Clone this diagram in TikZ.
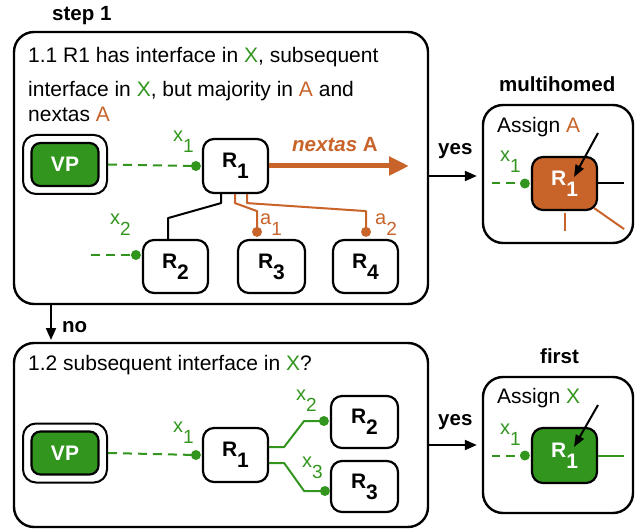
\documentclass[tikz,border=0pt]{standalone}
\usepackage{fontspec}
\setmainfont{Liberation Sans}
\usetikzlibrary{arrows.meta}
\definecolor{gr}{RGB}{50,150,30}
\definecolor{orng}{RGB}{200,100,42}
\newcommand{\fs}[1]{\fontsize{#1}{#1}\selectfont}
\newcommand{\Rlab}[1]{\bfseries{\fs{21}R}\raisebox{-11pt}{\fs{21}#1}}
\newcommand{\xlab}[2]{\fs{20}#1\raisebox{-11pt}{\fs{19}#2}}
\begin{document}
\begin{tikzpicture}[x=1pt,y=-1pt,line join=round,
  bigbox/.style={draw,line width=2.4pt,rounded corners=20pt,inner sep=0pt},
  rt/.style={draw,line width=2.2pt,rounded corners=11pt,fill=white,inner sep=0pt,minimum width=65pt,minimum height=54pt},
  vpo/.style={draw,line width=2pt,rounded corners=13pt,minimum width=84pt,minimum height=59pt,inner sep=0pt},
  vpi/.style={draw,line width=2.2pt,rounded corners=9pt,fill=gr,text=white,font=\fs{21}\bfseries,minimum width=67pt,minimum height=43pt,inner sep=0pt},
  txt/.style={anchor=base west,inner sep=0pt,font=\fs{21}},
  btxt/.style={anchor=base west,inner sep=0pt,font=\fs{20.5}\bfseries},
  lab/.style={anchor=base west,inner sep=0pt},
  gdash/.style={draw=gr,line width=2pt,dash pattern=on 9pt off 6pt},
  gline/.style={draw=gr,line width=2pt},
  oline/.style={draw=orng,line width=2pt},
  kline/.style={draw=black,line width=2pt},
  dotg/.style={circle,fill=gr,inner sep=0pt,minimum size=10pt},
  doto/.style={circle,fill=orng,inner sep=0pt,minimum size=10pt},
  arr/.style={-{Triangle[length=12pt,width=10pt]},line width=2pt},
  sarr/.style={-{Triangle[length=12pt,width=9pt]},line width=2pt}]
\useasboundingbox (0,0) rectangle (639,529);

% ---------- step 1 ----------
\node[btxt] (st1) at (52,21) {step 1};
\node[bigbox,minimum width=414pt,minimum height=272pt] (s1) at (221,168) {};
\node[txt] (t11) at (28,63) {1.1 R1 has interface in \textcolor{gr}{X}, subsequent};
\node[txt] (t12) at (28,97) {interface in \textcolor{gr}{X}, but majority in \textcolor{orng}{A} and};
\node[txt] (t13) at (28,122) {nextas \textcolor{orng}{A}};

\node[vpo] (VP1o) at (65,164.5) {};
\node[vpi] (VP1) at (65,164.5) {VP};
\node[rt] (R1a) at (235.5,166) {\Rlab{1}};
\node[rt,minimum height=53pt] (R2a) at (175.5,266.5) {\Rlab{2}};
\node[rt,minimum height=53pt,minimum width=67pt] (R3a) at (271.5,266.5) {\Rlab{3}};
\node[rt,minimum height=53pt] (R4a) at (365.5,266.5) {\Rlab{4}};

\node[dotg] (d1) at ([xshift=-6pt]R1a.west) {};
\draw[gdash] (VP1o.east) -- (d1.center);
\node[lab,text=gr] (lx1) at (173,142) {\xlab{x}{1}};

\coordinate (x2s) at (88,255);
\node[dotg] (d2) at ([xshift=-6pt,yshift=11.5pt]R2a.west) {};
\draw[gdash,dash phase=12pt] (x2s) -- (d2.center);
\node[lab,text=gr] (lx2) at (110,225) {\xlab{x}{2}};

\draw[kline] ([xshift=-14.5pt]R1a.south) -- ++(0,9) -- ++(-53,15) -- ([xshift=-7.5pt]R2a.north);

\node[doto] (da1) at ([xshift=-14.5pt,yshift=7pt]R3a.north) {};
\draw[oline] ([xshift=-0.5pt]R1a.south) -- ++(0,9) -- ++(22,8) -- (da1.center);
\node[lab,text=orng] (la1) at (260,225) {\xlab{a}{1}};

\node[doto] (da2) at ([xshift=0.5pt,yshift=7pt]R4a.north) {};
\draw[oline] ([xshift=11.5pt]R1a.south) -- ++(0,9) -- ++(119,8) -- (da2.center);
\node[lab,text=orng] (la2) at (375,225) {\xlab{a}{2}};

\coordinate (nx) at (409,166);
\draw[orng,line width=5pt,-{Triangle[length=20pt,width=18pt]}] (R1a.east) -- (nx);
\node[lab,text=orng,font=\fs{20.5}\bfseries] (nxl) at (292,152) {\textit{nextas} A};

% ---------- multihomed ----------
\node[btxt] (mh) at (499,92) {multihomed};
\node[bigbox,minimum width=150pt,minimum height=138pt] (M) at (558,174) {};
\draw[arr] ([yshift=-8pt]s1.east) -- ([xshift=-5pt,yshift=-2pt]M.west);
\node[btxt] (yes1) at (438,155) {yes};
\node[txt] (asA) at (497,133) {Assign \textcolor{orng}{A}};
\node[rt,fill=orng,text=white,minimum height=53pt] (Rm) at (564.5,183.5) {\Rlab{1}};
\node[dotg] (dm) at ([xshift=-6pt]Rm.west) {};
\coordinate (ms) at (492,183.5);
\draw[gdash,dash phase=1pt] (ms) -- (dm.center);
\node[lab,text=gr] (lmx) at (500,162) {\xlab{x}{1}};
\draw[kline] (Rm.east) -- ++(26,0);
\draw[oline] ([yshift=-2pt]Rm.south) -- ++(0,18);
\draw[oline] ([xshift=-4pt,yshift=3pt]Rm.south east) -- ++(30,21);
\coordinate (ma) at (598,133);
\draw[sarr] (ma) -- ([xshift=9.5pt,yshift=6.5pt]Rm.center);

% ---------- no ----------
\draw[arr] ([xshift=-170pt]s1.south) -- ([xshift=-170pt,yshift=3pt]s1.south |- 0,343);
\node[btxt] (no) at (62,332) {no};

% ---------- step 1.2 ----------
\node[bigbox,minimum width=414pt,minimum height=184pt] (s2) at (221,435) {};
\node[txt] (t2) at (28,370) {1.2 subsequent interface in \textcolor{gr}{X}?};
\node[vpo] (VP2o) at (65,453) {};
\node[vpi] (VP2) at (65,453) {VP};
\node[rt] (R1b) at (235.5,455) {\Rlab{1}};
\node[rt,minimum width=67pt,minimum height=52pt] (R2b) at (364.5,422) {\Rlab{2}};
\node[rt,minimum width=67pt,minimum height=51pt] (R3b) at (364.5,486.5) {\Rlab{3}};

\node[dotg] (e1) at ([xshift=-6pt]R1b.west) {};
\draw[gdash] (VP2o.east) -- (e1.center);
\node[lab,text=gr] (lbx1) at (173,432) {\xlab{x}{1}};

\node[dotg] (e2) at ([xshift=-6pt,yshift=1pt]R2b.west) {};
\draw[gline] ([yshift=8pt]R1b.east) -- ++(15,0) -- ++(20,-26) -- (e2.center);
\node[lab,text=gr] (lbx2) at (296,400) {\xlab{x}{2}};

\node[dotg] (e3) at ([xshift=-5pt,yshift=-4.5pt]R3b.west) {};
\draw[gline] ([yshift=-8pt]R1b.east) -- ++(15,0) -- ++(20,28) -- (e3.center);
\node[lab,text=gr] (lbx3) at (302,467) {\xlab{x}{3}};

% ---------- first ----------
\node[btxt] (fi) at (540,363) {first};
\node[bigbox,minimum width=150pt,minimum height=136pt] (F) at (558,445) {};
\draw[arr] ([yshift=-10pt]s2.east) -- ([xshift=-5pt]F.west);
\node[btxt] (yes2) at (438,425) {yes};
\node[txt] (asX) at (497,403) {Assign \textcolor{gr}{X}};
\node[rt,fill=gr,text=white,minimum height=55pt] (Rf) at (564.5,455.5) {\Rlab{1}};
\node[dotg] (df) at ([xshift=-6pt]Rf.west) {};
\coordinate (fs) at (492,455.5);
\draw[gdash,dash phase=1pt] (fs) -- (df.center);
\node[lab,text=gr] (lfx) at (500,434) {\xlab{x}{1}};
\draw[gline] (Rf.east) -- ++(26,0);
\coordinate (fa) at (598,405);
\draw[sarr] (fa) -- ([xshift=9.5pt,yshift=8.5pt]Rf.center);
\end{tikzpicture}
\end{document}
